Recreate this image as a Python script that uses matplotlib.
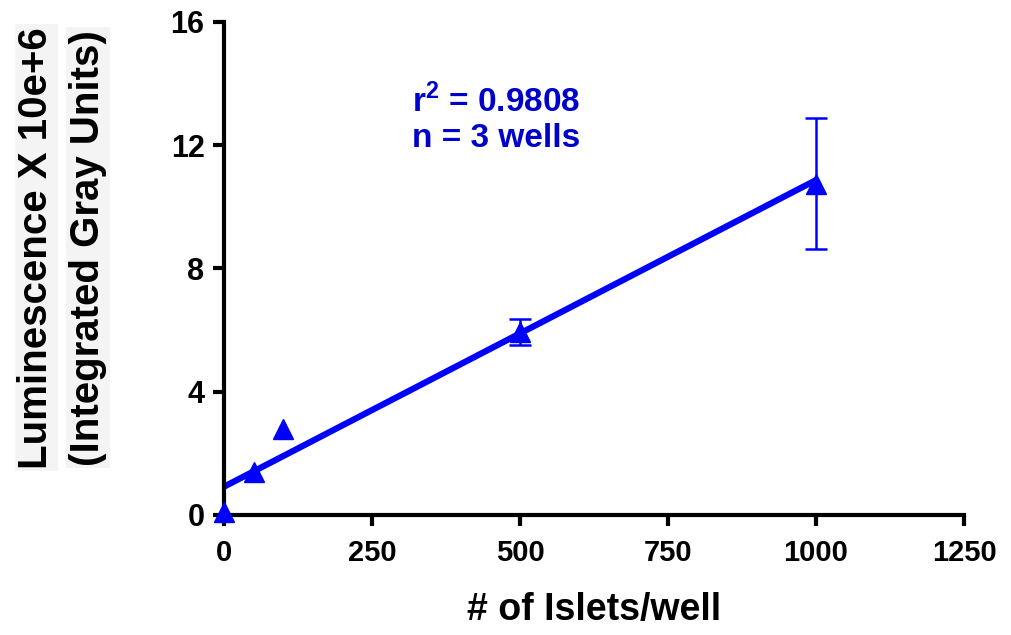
import numpy as np
import matplotlib
matplotlib.use('Agg')
import matplotlib.pyplot as plt

# Valores
islets = [0, 50, 100, 500, 1000]
lum = [0.1, 1.4, 2.8, 5.95, 10.75]
lum_err = [np.nan, np.nan, np.nan, 0.42, 2.12]
x_ticks = [0, 250, 500, 750, 1000, 1250]
y_ticks = [0, 4, 8, 12, 16]

azul = '#0000ff'
azul_texto = '#0000cc'

plt.rcParams['font.family'] = ['Liberation Sans', 'DejaVu Sans']
plt.rcParams['mathtext.fontset'] = 'custom'
plt.rcParams['mathtext.bf'] = 'Liberation Sans:bold'
plt.rcParams['mathtext.rm'] = 'Liberation Sans:bold'

fig = plt.figure(figsize=(10.12, 6.35), dpi=100)
ax = fig.add_axes([0.2213, 0.189, 0.7313, 0.7765])

# regressão linear
coef = np.polyfit(islets, lum, 1)
xs = np.array([0, 1000])
ax.plot(xs, np.polyval(coef, xs), color=azul, lw=4.5, solid_capstyle='butt', zorder=2)

# barras de erro só onde existem
tem_erro = ~np.isnan(lum_err)
ax.errorbar(np.array(islets)[tem_erro], np.array(lum)[tem_erro],
            yerr=np.array(lum_err)[tem_erro], fmt='none', ecolor=azul,
            elinewidth=1.8, capsize=8, capthick=1.8, zorder=3)
ax.plot(islets, lum, '^', color=azul, ms=14, zorder=4, clip_on=False)

ax.set_xlim(0, 1250)
ax.set_ylim(0, 16)
ax.set_xticks(x_ticks)
ax.set_yticks(y_ticks)

for s in ['top', 'right']:
    ax.spines[s].set_visible(False)
for s in ['left', 'bottom']:
    ax.spines[s].set_linewidth(3)
ax.tick_params(width=3, length=8, direction='out', pad=6)
for lab in ax.get_yticklabels():
    lab.set_fontweight('bold')
    lab.set_fontsize(22)
for lab in ax.get_xticklabels():
    lab.set_fontweight('bold')
    lab.set_fontsize(21)
ax.tick_params(axis='x', pad=9)

ax.set_xlabel('# of Islets/well', fontweight='bold', fontsize=27, labelpad=18)

fig.text(0.036, 0.61, 'Luminescence X 10e+6', rotation=90, ha='center', va='center',
         fontsize=29, fontweight='bold',
         bbox=dict(facecolor='#f4f4f4', edgecolor='none', pad=2))
fig.text(0.087, 0.61, '(Integrated Gray Units)', rotation=90, ha='center', va='center',
         fontsize=29, fontweight='bold',
         bbox=dict(facecolor='#f4f4f4', edgecolor='none', pad=2))

ax.text(318, 12.85, r'r$^{\mathbf{2}}$ = 0.9808' + '\nn = 3 wells', color=azul_texto,
        fontsize=24, fontweight='bold', ha='left', va='center', linespacing=1.15)

fig.savefig('out.png', dpi=100)
